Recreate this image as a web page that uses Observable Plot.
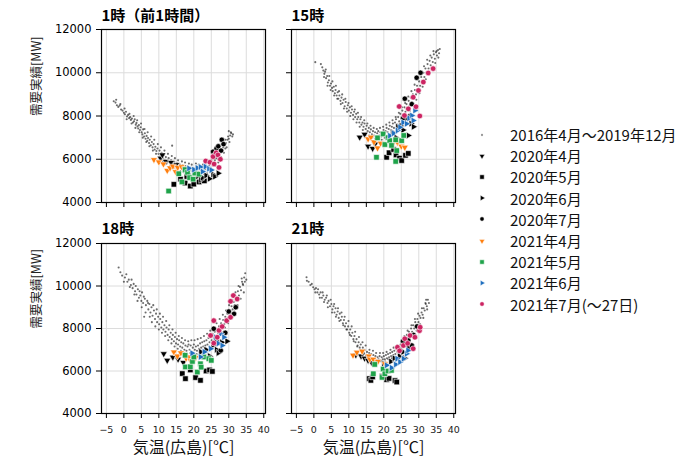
<!DOCTYPE html>
<html><head><meta charset="utf-8">
<script src="https://cdn.jsdelivr.net/npm/d3@7"></script>
<script src="https://cdn.jsdelivr.net/npm/@observablehq/plot@0.6"></script>
<style>
body{margin:0;background:#fff;}
#root{position:relative;width:700px;height:466px;overflow:hidden;background:#fff;}
#legend{position:absolute;left:470px;top:124px;font-family:"Noto Sans CJK JP",sans-serif;font-size:15px;color:#111;}
#legend .row{height:21.2px;display:flex;align-items:center;white-space:nowrap;}
#legend svg{width:24px;height:14px;margin-right:16px;}
</style>
</head><body>
<div id="root"><div id="legend"></div></div>
<script>
const xTicks = [-5,0,5,10,15,20,25,30,35,40];
const yTicks = [4000,6000,8000,10000,12000];
const panelTitles = ["1時（前1時間）","15時","18時","21時"];
const yLabel = "需要実績[MW]";
const xLabel = "気温(広島)[℃]";
const seriesNames = ["2016年4月～2019年12月","2020年4月","2020年5月","2020年6月","2020年7月","2021年4月","2021年5月","2021年6月","2021年7月(～27日)"];
const seriesColors = ["#000","#000","#000","#000","#000","#ff7f0e","#1fa34a","#1f6fbf","#cc2462"];

// ---- 1時 ----
const h01_hist = [[-2.9,8680],[-2.4,8620],[-2.0,8500],[-1.6,8420],[-1.2,8480],[-0.8,8300],[-0.4,8250],[0,8150],[0.3,8080],[0.6,8200],[0.9,7980],[1.2,8050],[1.5,7900],[1.8,7950],[2.0,7820],[2.3,7880],[2.6,7700],[2.9,7760],[3.1,7850],[3.4,7600],[3.6,7680],[3.9,7520],[4.1,7420],[4.3,7580],[4.6,7350],[4.8,7480],[5.1,7250],[5.3,7150],[5.5,7380],[5.8,7050],[6.0,7200],[6.2,6950],[6.5,7080],[6.7,6850],[6.9,6980],[7.2,6750],[7.4,6900],[7.7,6650],[8.0,6800],[8.2,6550],[8.5,6700],[8.8,6450],[9.0,6580],[9.3,6380],[9.6,6500],[9.9,6250],[10.2,6400],[10.5,6150],[10.8,6300],[11.1,6050],[11.4,6200],[11.7,5980],[12.0,6100],[12.4,5900],[12.8,6050],[13.1,5850],[13.5,5950],[13.8,6630],[14.0,5780],[14.4,5880],[14.8,5700],[15.2,5820],[15.6,5650],[16.0,5750],[16.4,5600],[16.8,5720],[17.2,5550],[17.6,5680],[18.0,5500],[18.4,5620],[18.8,5480],[19.2,5600],[19.6,5450],[20.0,5580],[20.4,5500],[20.8,5650],[21.2,5420],[21.6,5550],[22.0,5480],[22.4,5620],[22.8,5400],[23.2,5550],[23.6,5650],[24.0,5500],[24.4,5700],[24.8,5600],[25.2,5800],[25.6,5700],[26.0,5950],[26.4,6050],[26.8,6200],[27.2,6150],[27.6,6350],[28.0,6450],[28.4,6550],[28.8,6650],[29.2,6750],[29.6,6900],[30.0,6950],[30.4,7100],[30.7,7200],[29.0,6500],[27.0,6000],[31.0,7050],
[-2.2,8750],[-1.0,8550],[0.2,8350],[0.8,7850],[1.6,8100],[2.2,7650],[2.8,8000],[3.3,7450],[3.8,7800],[4.4,7250],[4.9,7650],[5.4,7000],[5.9,7400],[6.4,6800],[6.8,7250],[7.3,6600],[7.8,7050],[8.3,6400],[8.7,6900],[9.2,6250],[9.7,6700],[10.2,6050],[10.6,6550],[11.2,5900],[11.6,6400],[12.2,5800],[12.6,6250],[13.3,5700],[13.7,6150],[14.2,5600],[14.6,6050],[15.1,5550],[15.5,5950],[16.2,5450],[16.6,5900],[17.1,5400],[17.5,5850],[18.2,5350],[18.6,5800],[19.0,5300],[19.4,5750],[20.2,5300],[20.6,5800],[21.0,5250],[21.4,5750],[22.2,5250],[22.6,5750],[23.0,5300],[23.4,5800],[23.8,5350],[24.2,5850],[24.6,5400],[25.0,5950],[25.4,5500],[25.8,6100],[26.2,5700],[26.6,6350],[27.0,5850],[27.4,6550],[27.8,6100],[28.2,6700],[28.6,6300],[29.0,6900],[29.4,6550],[29.8,7050],[30.2,6800],[30.6,7250],[31.2,7150],[30.0,7300]];
const h01_apr20 = [[10.5,6050],[11.0,6200],[12.0,5900],[13.5,5850],[15.0,5750]];
const h01_may20 = [[14.3,4840],[16.2,5080],[17.5,4900],[18.0,5200],[19.0,4760],[20.0,4850],[21.5,4950],[23.0,5000]];
const h01_jun20 = [[21.0,5200],[22.0,5050],[22.5,5150],[23.5,5250],[24.5,5100],[25.5,5300],[26.0,5200],[27.0,5350]];
const h01_jul20 = [[25.5,6350],[26.0,6200],[26.5,6500],[27.0,6600],[27.8,6400],[28.0,6900],[28.5,6700]];
const h01_apr21 = [[8.6,5980],[10.0,5870],[11.3,5780],[12.4,5480],[13.2,5600],[14.0,5680],[14.8,5420],[15.4,5620],[16.5,5650],[17.5,5560]];
const h01_may21 = [[12.8,4530],[15.7,5330],[16.6,4950],[17.5,5520],[18.2,5390],[18.8,5150],[19.8,5080],[20.3,5360],[21.5,5310]];
const h01_jun21 = [[18.6,5580],[20.0,5520],[21.0,5600],[21.9,5640],[22.5,5430],[23.3,5660],[24.3,5560],[25.0,5500]];
const h01_jul21 = [[23.4,5920],[24.6,5860],[25.5,6120],[25.8,5780],[26.4,6300],[26.9,6200],[27.2,5620],[27.6,6000]];

// ---- 15時 ----
const h15_hist = [[0.4,10490],[2.4,10250],[2.7,10100],[3.0,9950],[3.2,10050],[3.5,9750],[3.8,9850],[4.0,9550],[4.3,9650],[4.6,9400],[4.9,9500],[5.2,9300],[5.4,9150],[5.7,9350],[6.0,9050],[6.2,9200],[6.5,8950],[6.8,9100],[7.0,8800],[7.3,8950],[7.6,8700],[7.9,8850],[8.2,8600],[8.5,8750],[8.8,8450],[9.1,8650],[9.4,8350],[9.7,8500],[10.0,8250],[10.3,8400],[10.6,8150],[10.9,8300],[11.2,8050],[11.5,8200],[11.8,7950],[12.1,8100],[12.4,7850],[12.7,7950],[13.0,7700],[13.3,7850],[13.6,7600],[13.9,7700],[14.2,7500],[14.5,7650],[14.8,7400],[15.1,7550],[15.4,7300],[15.7,7450],[16.0,7250],[16.3,7380],[16.6,7150],[16.9,7300],[17.2,7100],[17.5,7250],[17.8,7050],[18.1,7200],[18.4,7300],[18.7,7100],[19.0,7250],[19.3,7050],[19.6,7200],[19.9,7350],[20.2,7150],[20.5,7300],[20.8,7450],[21.1,7250],[21.4,7400],[21.7,7550],[22.0,7350],[22.3,7500],[22.6,7650],[22.9,7450],[23.2,7700],[23.5,7850],[23.8,7600],[24.1,7950],[24.4,7750],[24.7,8100],[25.0,7900],[25.3,8250],[25.6,8050],[25.9,8400],[26.2,8200],[26.5,8550],[26.8,8350],[27.1,8700],[27.4,8500],[27.7,8850],[28.0,8650],[28.3,9000],[28.6,8800],[28.9,9200],[29.2,9000],[29.5,9400],[29.8,9200],[30.1,9600],[30.4,9400],[30.7,9800],[31.0,9600],[31.3,10000],[31.6,9800],[31.9,10200],[32.2,10000],[32.5,10400],[32.8,10200],[33.1,10550],[33.4,10350],[33.7,10700],[34.0,10500],[34.3,10850],[34.6,10650],[34.9,10950],[35.2,10800],[35.5,11050],[35.8,10900],[36.0,11100],
[2.0,10400],[2.9,9800],[3.4,10150],[3.9,9400],[4.4,9850],[4.8,9200],[5.3,9600],[5.8,8950],[6.3,9400],[6.7,8800],[7.2,9150],[7.7,8550],[8.1,9000],[8.6,8350],[9.0,8800],[9.5,8200],[9.9,8600],[10.4,8000],[10.8,8450],[11.3,7850],[11.7,8300],[12.2,7700],[12.6,8150],[13.1,7500],[13.5,7950],[14.0,7350],[14.4,7800],[14.9,7200],[15.3,7650],[15.8,7100],[16.2,7550],[16.7,7000],[17.1,7450],[17.6,6950],[18.0,7400],[18.5,6950],[18.9,7450],[19.4,6900],[19.8,7500],[20.3,7000],[20.7,7600],[21.2,7050],[21.6,7700],[22.1,7150],[22.5,7800],[23.0,7250],[23.4,7950],[23.9,7400],[24.3,8150],[24.8,7550],[25.2,8400],[25.7,7750],[26.1,8600],[26.6,8000],[27.0,8900],[27.5,8250],[27.9,9150],[28.4,8500],[28.8,9450],[29.3,8750],[29.7,9700],[30.2,9050],[30.6,10000],[31.1,9350],[31.5,10300],[32.0,9700],[32.4,10600],[32.9,10000],[33.3,10800],[33.8,10250],[34.2,11000],[34.7,10450],[35.1,11000],[35.6,10700]];
const h15_apr20 = [[13.1,7020],[14.5,7150],[15.5,6600],[16.8,6500],[17.5,6700]];
const h15_may20 = [[20.8,6090],[21.5,6300],[22.8,6450],[23.5,6200],[24.5,6050],[25.1,5940],[26.2,6180],[27.0,6270]];
const h15_jun20 = [[22.5,7250],[23.5,7000],[24.0,7500],[25.5,7350],[26.5,7900],[27.0,7100],[27.8,7650],[28.5,7500]];
const h15_jul20 = [[24.9,7560],[25.5,7900],[26.0,8800],[27.5,8000],[28.0,8550],[29.4,9770],[30.5,10000]];
const h15_apr21 = [[15.5,6940],[16.3,7020],[17.2,6800],[18.2,6520],[19.1,6740],[22.5,6700],[23.9,6780],[25.0,6600],[26.0,6550]];
const h15_may21 = [[17.9,6090],[18.2,6990],[19.8,7170],[20.3,6680],[21.2,7000],[21.7,6860],[22.2,6640],[23.4,6900],[23.7,6400],[23.4,5900],[25.1,6860],[25.7,7100]];
const h15_jun21 = [[21.7,7090],[22.8,7200],[23.9,7330],[24.6,7480],[25.5,7700],[26.5,7640],[27.2,7900],[28.0,8020],[28.4,7790],[28.9,8260]];
const h15_jul21 = [[24.4,8440],[25.9,8020],[27.0,8330],[28.4,8870],[29.2,8430],[29.9,9180],[30.3,8000],[31.3,9570],[32.7,9990],[34.1,10190]];

// ---- 18時 ----
const h18_hist = [[-1.5,10870],[-0.5,10490],[0.3,10400],[1.0,10200],[1.4,10300],[2.0,10050],[2.5,9900],[2.8,10100],[3.2,9750],[3.6,9600],[4.0,9850],[4.3,9450],[4.7,9550],[5.0,9300],[5.2,9700],[5.5,9200],[5.8,8550],[6.0,9400],[6.3,9100],[6.7,9300],[7.0,8900],[7.3,9150],[7.6,8750],[7.9,9000],[8.2,8600],[8.6,8850],[8.9,8450],[9.2,8700],[9.5,8300],[9.8,8550],[10.1,8200],[10.4,8450],[10.7,8050],[11.0,8300],[11.3,7950],[11.6,8150],[11.9,7850],[12.2,8050],[12.5,7700],[12.8,7950],[13.1,7600],[13.4,7800],[13.7,7500],[14.0,7700],[14.3,7400],[14.6,7600],[14.9,7300],[15.2,7500],[15.5,7250],[15.8,7450],[16.1,7150],[16.4,7350],[16.7,7100],[17.0,7300],[17.3,7000],[17.6,7200],[17.9,6950],[18.2,7150],[18.5,7250],[18.8,7000],[19.1,7200],[19.4,6900],[19.7,7100],[20.0,7250],[20.3,7000],[20.6,7150],[20.9,6950],[21.2,7200],[21.5,7050],[21.8,7300],[22.1,7100],[22.4,7350],[22.7,7150],[23.0,7400],[23.3,7200],[23.6,7450],[23.9,7250],[24.2,7550],[24.5,7350],[24.8,7650],[25.1,7450],[25.4,7750],[25.7,7550],[26.0,7850],[26.3,7650],[26.6,7950],[26.9,7800],[27.2,8100],[27.5,7900],[27.8,8250],[28.1,8050],[28.4,8400],[28.7,8200],[29.0,8550],[29.3,8350],[29.6,8700],[29.9,8500],[30.2,8850],[30.5,8700],[30.8,9050],[31.1,8900],[31.4,9250],[31.7,9100],[32.0,9500],[32.3,9300],[32.6,9750],[32.9,9550],[33.2,9950],[33.5,9800],[33.8,10200],[34.1,10050],[34.4,10400],[34.7,10600],[35.0,10300],[34.0,10100],
[-1.0,10650],[0.0,10200],[0.7,10550],[1.7,9950],[2.2,10300],[3.0,9600],[3.4,10000],[3.9,9300],[4.5,9750],[5.1,9000],[5.7,9500],[6.2,8750],[6.9,9200],[7.4,8550],[8.0,8300],[8.4,9100],[9.0,8100],[9.4,8900],[10.0,7950],[10.3,8700],[10.9,7800],[11.2,8550],[11.8,7650],[12.1,8350],[12.7,7450],[13.0,8150],[13.6,7300],[13.9,7950],[14.5,7150],[14.8,7800],[15.4,7050],[15.7,7650],[16.3,6950],[16.6,7550],[17.2,6850],[17.5,7450],[18.1,6800],[18.4,7400],[19.0,6850],[19.3,7450],[19.9,6850],[20.2,7450],[20.8,6800],[21.1,7500],[21.7,6900],[22.0,7550],[22.6,6950],[22.9,7650],[23.5,7050],[23.8,7750],[24.4,7150],[24.7,7900],[25.3,7250],[25.6,8050],[26.2,7400],[26.5,8250],[27.1,7600],[27.4,8450],[28.0,7800],[28.3,8650],[28.9,8050],[29.2,8850],[29.8,8250],[30.1,9100],[30.7,8500],[31.0,9350],[31.6,8800],[31.9,9700],[32.5,9100],[32.8,10000],[33.4,9400],[33.7,10350],[34.3,9700],[34.6,10200]];
const h18_apr20 = [[11.4,6810],[12.4,6500],[14.0,6650],[15.5,6550],[17.0,6400]];
const h18_may20 = [[16.7,5880],[17.6,5640],[19.0,6050],[20.5,5690],[21.9,5560],[23.5,6000],[24.5,6050],[25.3,5980]];
const h18_jun20 = [[22.0,6900],[23.5,7000],[24.5,6700],[25.5,7200],[26.5,7000],[27.0,6850],[28.0,7350],[29.5,7400]];
const h18_jul20 = [[25.7,7990],[26.5,7400],[27.7,6970],[29.0,7800],[30.0,8800],[31.5,8690],[32.0,9000]];
const h18_apr21 = [[14.3,6890],[15.3,6700],[16.3,6850],[17.8,6600],[18.6,6660],[19.1,6480],[20.5,6630],[24.0,6600]];
const h18_may21 = [[17.5,6740],[17.6,6190],[19.0,6200],[19.6,6450],[20.0,6660],[21.0,5950],[21.9,6340],[22.1,6180],[22.9,6660],[24.3,6580],[25.0,6500]];
const h18_jun21 = [[19.5,6840],[21.9,6660],[23.0,6900],[24.8,7050],[26.2,7590],[27.0,7300],[27.7,7750],[28.1,7200],[28.6,7590]];
const h18_jul21 = [[24.8,7670],[25.7,8370],[25.7,7310],[26.7,7590],[27.2,7910],[28.1,8090],[29.4,8370],[30.5,8530],[30.5,9280],[31.3,9550],[32.4,9390]];

// ---- 21時 ----
const h21_hist = [[-2.1,10410],[-2.0,10250],[-1.0,10050],[-0.2,9940],[0.2,9850],[0.6,9900],[1.0,9700],[1.5,9600],[1.9,9700],[2.3,9450],[2.7,9550],[3.1,9350],[3.5,9450],[3.9,9200],[4.2,9300],[4.6,9050],[5.0,9150],[5.3,8900],[5.6,9050],[5.9,8750],[6.2,8950],[6.5,8650],[6.8,8800],[7.1,8500],[7.4,8700],[7.7,8400],[8.0,8550],[8.3,8250],[8.6,8400],[8.9,8100],[9.2,8250],[9.5,7950],[9.8,8100],[10.1,7800],[10.4,7950],[10.7,7650],[11.0,7800],[11.3,7500],[11.6,7650],[11.9,7350],[12.2,7500],[12.5,7200],[12.8,7350],[13.1,7100],[13.4,7250],[13.7,6950],[14.0,7100],[14.3,6850],[14.6,7000],[14.9,6750],[15.2,6900],[15.5,6700],[15.8,6850],[16.1,6650],[16.4,6800],[16.7,6600],[17.0,6750],[17.3,6550],[17.6,6700],[17.9,6500],[18.2,6650],[18.5,6550],[18.8,6700],[19.1,6500],[19.4,6650],[19.7,6550],[20.0,6700],[20.3,6550],[20.6,6750],[20.9,6600],[21.2,6800],[21.5,6650],[21.8,6850],[22.1,6700],[22.4,6900],[22.7,6750],[23.0,6950],[23.3,6800],[23.6,7050],[23.9,6900],[24.2,7150],[24.5,7000],[24.8,7250],[25.1,7100],[25.4,7400],[25.7,7250],[26.0,7550],[26.3,7400],[26.6,7700],[26.9,7550],[27.2,7850],[27.5,7700],[27.8,8000],[28.1,7850],[28.4,8150],[28.7,8000],[29.0,8300],[29.3,8150],[29.6,8450],[29.9,8300],[30.2,8600],[30.5,8500],[30.8,8750],[31.1,8650],[31.4,8950],[31.7,8850],[32.0,9150],[32.3,9050],[32.6,9350],[32.9,9200],
[-1.5,10200],[-0.6,10100],[0.4,9700],[1.2,9850],[1.7,9450],[2.5,9700],[2.9,9250],[3.7,9550],[4.0,9000],[4.8,9350],[5.2,8750],[5.8,9150],[6.3,8550],[6.9,8950],[7.3,8350],[7.9,8750],[8.4,8150],[8.8,8550],[9.3,7950],[9.9,8350],[10.3,7700],[10.8,8100],[11.4,7400],[11.8,7850],[12.4,7150],[12.9,7600],[13.3,7000],[13.9,7350],[14.4,6800],[14.8,7200],[15.4,6650],[15.9,7000],[16.3,6550],[16.9,6950],[17.4,6450],[17.8,6850],[18.4,6450],[18.9,6850],[19.3,6450],[19.8,6850],[20.4,6450],[20.8,6900],[21.3,6550],[21.9,7000],[22.3,6600],[22.8,7100],[23.4,6650],[23.8,7200],[24.4,6800],[24.9,7400],[25.3,6950],[25.9,7650],[26.4,7150],[26.8,7900],[27.4,7400],[27.9,8150],[28.3,7600],[28.9,8450],[29.4,7900],[29.8,8700],[30.4,8200],[30.9,8950],[31.3,8500],[31.9,9200],[32.4,8900],[32.1,9350]];
const h21_apr20 = [[12.0,6750],[13.5,6700],[14.5,6600],[15.5,6500],[16.5,6400]];
const h21_may20 = [[15.8,5640],[16.3,5560],[16.8,5720],[19.5,5750],[20.8,5590],[21.5,5650],[23.2,5550],[23.7,5480]];
const h21_jun20 = [[20.0,6350],[22.0,6450],[23.0,6600],[24.5,6700],[25.5,6900],[26.0,6600],[27.0,7100]];
const h21_jul20 = [[24.5,7000],[25.5,7400],[27.0,7450],[28.0,7200],[28.5,7700],[29.5,8100]];
const h21_apr21 = [[11.2,6740],[12.3,6880],[13.8,6930],[15.7,6700],[16.0,6560],[17.0,6550],[18.3,6450],[20.3,6340]];
const h21_may21 = [[17.4,6310],[17.0,5870],[19.5,5700],[19.8,6090],[20.3,5870],[21.2,6000],[22.2,6030]];
const h21_jun21 = [[20.8,6270],[22.2,6150],[23.4,6310],[23.8,6580],[24.6,6420],[25.6,6580],[26.5,6810],[26.9,6970]];
const h21_jul21 = [[23.9,7120],[24.5,6950],[25.6,7200],[26.0,7520],[26.8,7300],[27.5,7670],[28.4,7050],[28.9,7590],[30.2,7900],[30.4,8060]];

// symbols
function triDown(){return {draw(c,size){const a=Math.sqrt(size/(Math.sqrt(3)*3));c.moveTo(0,2*a);c.lineTo(-Math.sqrt(3)*a,-a);c.lineTo(Math.sqrt(3)*a,-a);c.closePath();}};}
function triRight(){return {draw(c,size){const a=Math.sqrt(size/(Math.sqrt(3)*3));c.moveTo(2*a,0);c.lineTo(-a,-Math.sqrt(3)*a);c.lineTo(-a,Math.sqrt(3)*a);c.closePath();}};}
const seriesSymbols = ["circle", triDown(), "square", triRight(), "circle", triDown(), "square", triRight(), "circle"];
const seriesR = [1.05, 2.6, 3.1, 2.6, 2.7, 2.6, 3.1, 2.6, 2.8];

const panels = [
  {title: panelTitles[0], sets: [h01_hist,h01_apr20,h01_may20,h01_jun20,h01_jul20,h01_apr21,h01_may21,h01_jun21,h01_jul21], left:0, top:0, col:0, row:0},
  {title: panelTitles[1], sets: [h15_hist,h15_apr20,h15_may20,h15_jun20,h15_jul20,h15_apr21,h15_may21,h15_jun21,h15_jul21], left:271, top:0, col:1, row:0},
  {title: panelTitles[2], sets: [h18_hist,h18_apr20,h18_may20,h18_jun20,h18_jul20,h18_apr21,h18_may21,h18_jun21,h18_jul21], left:0, top:216, col:0, row:1},
  {title: panelTitles[3], sets: [h21_hist,h21_apr20,h21_may20,h21_jun20,h21_jul20,h21_apr21,h21_may21,h21_jun21,h21_jul21], left:271, top:216, col:1, row:1}
];

const root = document.getElementById("root");
const fmtX = d => d < 0 ? "\u2212" + (-d) : String(d);

for (const p of panels) {
  const ml = p.col === 0 ? 101 : 20;
  const mr = 6;
  const mt = p.row === 0 ? 29 : 27;
  const mb = p.row === 0 ? 14 : 53;
  const innerH = p.row === 0 ? 173 : 170;
  const width = ml + 164 + mr;
  const height = mt + innerH + mb;
  const marks = [
    Plot.gridX(xTicks, {stroke: "#dcdcdc", strokeOpacity: 1, strokeWidth: 1}),
    Plot.gridY(yTicks, {stroke: "#dcdcdc", strokeOpacity: 1, strokeWidth: 1}),
  ];
  p.sets.forEach((data, i) => {
    if (i === 0) {
      marks.push(Plot.dot(data, {x: d => d[0], y: d => d[1], r: seriesR[0], fill: "#111", fillOpacity: 0.62, stroke: "none"}));
    } else {
      marks.push(Plot.dot(data, {x: d => d[0], y: d => d[1], r: seriesR[i], symbol: seriesSymbols[i], fill: seriesColors[i], stroke: "#fff", strokeWidth: 0.6}));
    }
  });
  marks.push(Plot.frame({stroke: "#000", strokeWidth: 1.2}));
  marks.push(Plot.axisY(yTicks, {tickSize: 5, tickPadding: 5, fontSize: 11.5, label: null,
    tickFormat: p.col === 0 ? (d => String(d)) : (() => "")}));
  marks.push(Plot.axisX(xTicks, {tickSize: 5, tickPadding: 8, fontSize: 9.5, label: null, fill: "#222",
    tickFormat: p.row === 1 ? fmtX : (() => "")}));
  marks.push(Plot.text([p.title], {frameAnchor: "top-left", text: d => d, dy: p.row === 0 ? -19 : -20, textAnchor: "start",
    fontFamily: "Noto Sans CJK JP", fontSize: 15, fontWeight: "bold", fill: "#000"}));
  if (p.col === 0) {
    marks.push(Plot.text([yLabel], {frameAnchor: "left", text: d => d, dx: -65, rotate: -90,
      fontFamily: "Noto Sans CJK JP", fontSize: 12.5, fill: "#222"}));
  }
  if (p.row === 1) {
    marks.push(Plot.text([xLabel], {frameAnchor: "bottom", text: d => d, dy: 39.5,
      fontFamily: "Noto Sans CJK JP", fontSize: 16, fill: "#111"}));
  }
  const svg = Plot.plot({
    width, height, marginLeft: ml, marginRight: mr, marginTop: mt, marginBottom: mb,
    x: {domain: [-6.4, 40.5]},
    y: {domain: [4000, 12000]},
    style: {fontFamily: "DejaVu Sans", color: "#000", background: "transparent", overflow: "visible"},
    marks
  });
  svg.style.left = p.left + "px";
  svg.style.top = p.top + "px";
  svg.style.position = "absolute";
  root.appendChild(svg);
}

// legend
const legend = document.getElementById("legend");
seriesNames.forEach((name, i) => {
  const row = document.createElement("div");
  row.className = "row";
  const s = d3.create("svg").attr("width", 24).attr("height", 14);
  const sym = typeof seriesSymbols[i] === "string" ? (seriesSymbols[i] === "square" ? d3.symbolSquare : d3.symbolCircle) : seriesSymbols[i];
  const size = i === 0 ? 4 : Math.PI * Math.pow(seriesR[i] * 0.8, 2);
  s.append("path").attr("transform", "translate(12,7)")
    .attr("d", d3.symbol(sym, size)())
    .attr("fill", i === 0 ? "#999" : seriesColors[i])
    .attr("stroke", i === 0 ? "none" : "#fff").attr("stroke-width", 0.5);
  row.appendChild(s.node());
  const span = document.createElement("span");
  span.textContent = name;
  row.appendChild(span);
  legend.appendChild(row);
});
</script>
</body></html>
